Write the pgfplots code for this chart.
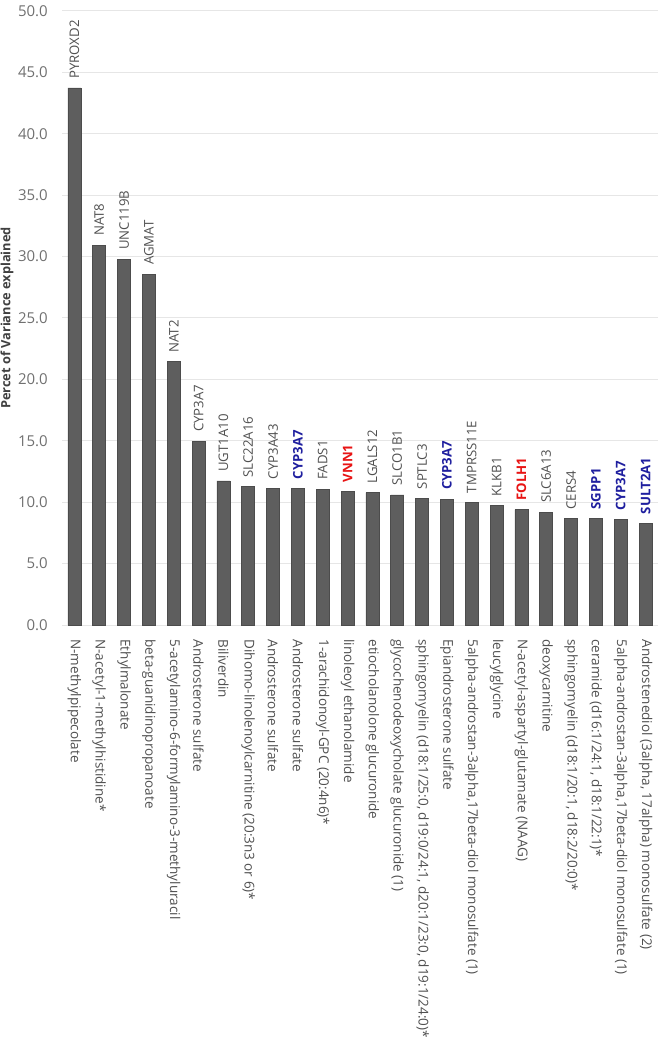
\documentclass[border=0pt]{standalone}
\usepackage{fontspec}
\setmainfont{Open Sans}
\usepackage{pgfplots}
\pgfplotsset{compat=1.18}
\usepackage{pgfplotstable}
\definecolor{lblgray}{HTML}{505050}
\definecolor{tickgray}{HTML}{707070}
\definecolor{titlegray}{HTML}{404040}
\definecolor{lblblue}{HTML}{1F1F9F}
\definecolor{lblred}{HTML}{E81414}
\definecolor{gridc}{HTML}{E6E6E6}
\definecolor{barfill}{HTML}{5E5E5E}
\definecolor{baredge}{HTML}{4C4C4C}
\newcommand{\blu}[1]{\textcolor{lblblue}{\bfseries #1}}
\newcommand{\rd}[1]{\textcolor{lblred}{\bfseries #1}}

\pgfplotstableread{
x y lbl
0 43.73 PYROXD2
1 30.94 NAT8
2 29.80 UNC119B
3 28.58 AGMAT
4 21.44 NAT2
5 14.96 CYP3A7
6 11.73 UGT1A10
7 11.26 SLC22A16
8 11.13 CYP3A43
9 11.13 \blu{CYP3A7}
10 11.07 FADS1
11 10.88 \rd{VNN1}
12 10.77 LGALS12
13 10.59 SLCO1B1
14 10.30 SPTLC3
15 10.24 \blu{CYP3A7}
16 9.99 TMPRSS11E
17 9.72 KLKB1
18 9.39 \rd{FOLH1}
19 9.18 SLC6A13
20 8.66 CERS4
21 8.66 \blu{SGPP1}
22 8.60 \blu{CYP3A7}
23 8.28 \blu{SULT2A1}
}\genedata

\begin{document}
\begin{tikzpicture}
\path[use as bounding box] (-62pt,-415pt) rectangle (601pt,625pt);
\begin{axis}[
  at={(0pt,0pt)}, anchor=south west,
  scale only axis,
  width=596pt, height=614pt,
  xmin=-0.5, xmax=23.5,
  ymin=0, ymax=50,
  ybar, bar width=13pt,
  ytick={0,5,...,50},
  yticklabel style={/pgf/number format/fixed, /pgf/number format/precision=1, /pgf/number format/fixed zerofill, /pgf/number format/assume math mode=true, font=\fontsize{15}{17}\selectfont, color=tickgray, inner sep=0pt},
  yticklabel shift=14pt,
  xtick=data,
  xticklabels={
    N-methylpipecolate,
    N-acetyl-1-methylhistidine*,
    Ethylmalonate,
    beta-guanidinopropanoate,
    5-acetylamino-6-formylamino-3-methyluracil,
    Androsterone sulfate,
    Biliverdin,
    {Dihomo-linolenoylcarnitine (20:3n3 or 6)*},
    Androsterone sulfate,
    Androsterone sulfate,
    {1-arachidonoyl-GPC (20:4n6)*},
    linoleoyl ethanolamide,
    etiocholanolone glucuronide,
    {glycochenodeoxycholate glucuronide (1)},
    {sphingomyelin (d18:1/25:0, d19:0/24:1, d20:1/23:0, d19:1/24:0)*},
    Epiandrosterone sulfate,
    {5alpha-androstan-3alpha,17beta-diol monosulfate (1)},
    leucylglycine,
    {N-acetyl-aspartyl-glutamate (NAAG)},
    deoxycarnitine,
    {sphingomyelin (d18:1/20:1, d18:2/20:0)*},
    {ceramide (d16:1/24:1, d18:1/22:1)*},
    {5alpha-androstan-3alpha,17beta-diol monosulfate (1)},
    {Androstenediol (3alpha, 17alpha) monosulfate (2)}
  },
  xticklabel style={rotate=-90, anchor=west, inner sep=0pt, font=\fontsize{13.5}{15}\selectfont, color=lblgray},
  xticklabel shift=10pt,
  ymajorgrids,
  grid style={draw=gridc, line width=1pt},
  axis line style={draw=none},
  major tick style={draw=none},
  ylabel={Percet of Variance explained},
  ylabel style={at={(axis description cs:-0.0923,0.5)}, anchor=center, rotate=0, font=\fontsize{12.8}{14}\selectfont\bfseries, color=titlegray},
  nodes near coords,
  point meta=explicit symbolic,
  nodes near coords style={rotate=90, anchor=west, inner xsep=9pt, inner ysep=0pt, font=\fontsize{13.2}{15}\selectfont, color=lblgray},
  clip=false,
]
\addplot[fill=barfill, draw=baredge, line width=0.6pt] table[x=x, y=y, meta=lbl] {\genedata};
\end{axis}
\end{tikzpicture}
\end{document}
